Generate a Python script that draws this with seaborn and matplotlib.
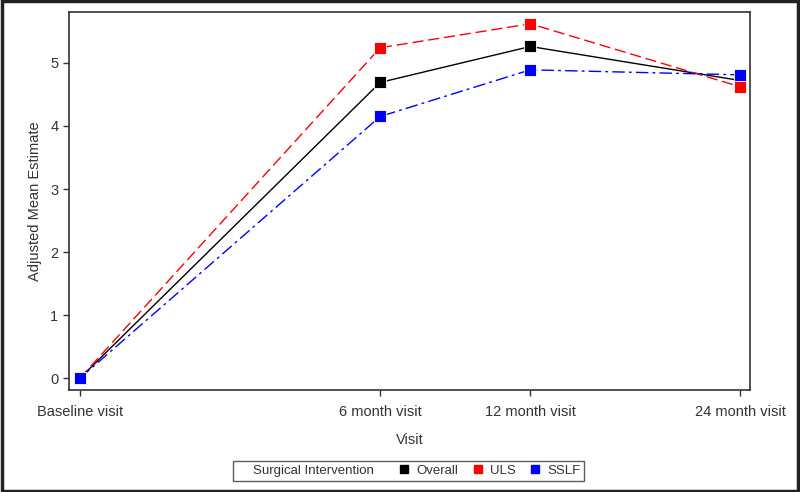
import pandas as pd
import matplotlib
matplotlib.use("Agg")
import matplotlib.pyplot as plt
import seaborn as sns
from matplotlib.lines import Line2D
from matplotlib.patches import Rectangle

# data
visit_labels = ["Baseline visit", "6 month visit", "12 month visit", "24 month visit"]
visit_x = [0, 10, 15, 22]
overall = [0.0, 4.69, 5.26, 4.72]
uls = [0.0, 5.24, 5.62, 4.62]
sslf = [0.0, 4.15, 4.89, 4.81]
groups = ["Overall", "ULS", "SSLF"]

df = pd.DataFrame({
    "x": visit_x * 3,
    "est": overall + uls + sslf,
    "group": [g for g in groups for _ in visit_x],
})

sns.set_style("ticks")
plt.rcParams["font.family"] = ["Liberation Sans", "DejaVu Sans"]
txt = "#333333"

fig = plt.figure(figsize=(8, 4.92), dpi=100)
ax = fig.add_axes([0.086, 0.207, 0.852, 0.769])

palette = {"Overall": "black", "ULS": "#ff0000", "SSLF": "#0000ff"}
dashes = {"Overall": "", "ULS": (8, 3.5), "SSLF": (9, 3, 2, 3)}
sns.lineplot(data=df, x="x", y="est", hue="group", style="group",
             hue_order=groups, style_order=groups, palette=palette,
             dashes=dashes, markers={g: "s" for g in groups},
             markersize=9, markeredgewidth=0.6, linewidth=1.0,
             legend=False, ax=ax)

ax.set_xlim(-0.37, 22.33)
ax.set_ylim(-0.19, 5.81)
ax.set_xticks(visit_x)
ax.set_xticklabels(visit_labels)
ax.set_yticks([0, 1, 2, 3, 4, 5])
ax.tick_params(colors=txt, labelsize=10.5, length=4, width=1)
ax.tick_params(axis="x", pad=7)
for s in ax.spines.values():
    s.set_visible(True)
    s.set_color("#333333")
    s.set_linewidth(1.2)
ax.set_xlabel("Visit", color=txt, fontsize=10.5, labelpad=10)
ax.set_ylabel("Adjusted Mean Estimate", color=txt, fontsize=10.5, labelpad=6)

handles = [Line2D([], [], linestyle="none", marker="none")]
labels = ["Surgical Intervention   "]
for g in groups:
    handles.append(Line2D([], [], linestyle="none", marker="s",
                          color=palette[g], markersize=6))
    labels.append(g)
leg = fig.legend(handles, labels, ncol=4, loc="center",
                 bbox_to_anchor=(0.511, 0.043), frameon=True, fancybox=False,
                 fontsize=9.5, handlelength=0.6, handletextpad=0.6,
                 columnspacing=1.2, borderpad=0.3, edgecolor="#333333")
leg.get_frame().set_linewidth(1.0)
for t in leg.get_texts():
    t.set_color(txt)

fig.patches.append(Rectangle((0.002, 0.003), 0.996, 0.994, transform=fig.transFigure,
                             fill=False, edgecolor="#222222", linewidth=2.5))

fig.savefig("out.png", dpi=100)
